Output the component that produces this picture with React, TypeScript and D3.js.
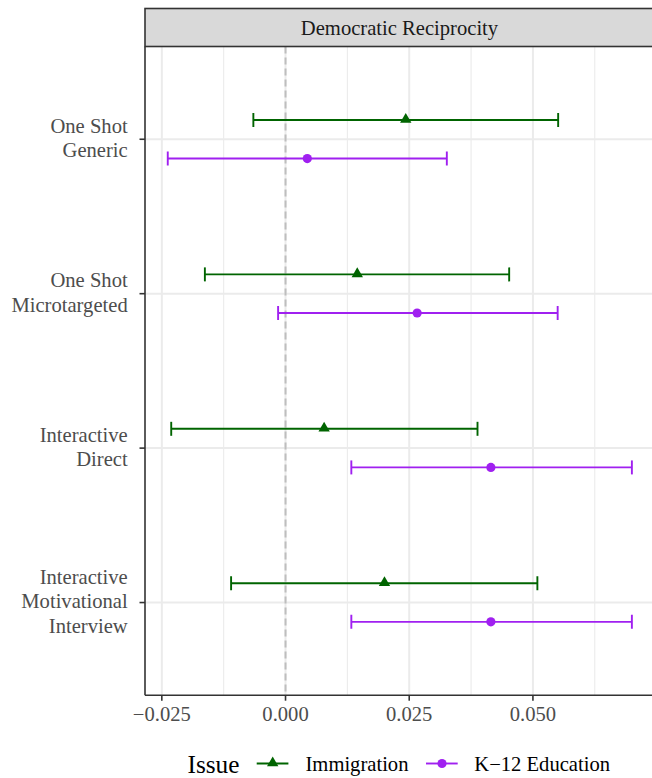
import React from "react";
import * as d3 from "d3";

const categories = ["One Shot\nGeneric", "One Shot\nMicrotargeted", "Interactive\nDirect", "Interactive\nMotivational\nInterview"];
const issues = ["Immigration", "K−12 Education"];
const immEst = [0.0243, 0.0145, 0.0078, 0.0200];
const immLo = [-0.0065, -0.0163, -0.0231, -0.0110];
const immHi = [0.0551, 0.0452, 0.0388, 0.0509];
const k12Est = [0.0044, 0.0266, 0.0415, 0.0415];
const k12Lo = [-0.0238, -0.0015, 0.0133, 0.0133];
const k12Hi = [0.0326, 0.0550, 0.0700, 0.0700];
const xTicks = [-0.025, 0, 0.025, 0.05];
const xMinor = [-0.0125, 0.0125, 0.0375, 0.0625];
const stripTitle = "Democratic Reciprocity";
const legendTitle = "Issue";

const colors = ["#006400", "#A020F0"];
const FONT = "'Liberation Serif', 'Times New Roman', serif";

export default function App() {
  const W = 652, H = 778;
  const pL = 145, pR = 660, pT = 46.6, pB = 695.2;
  const x = d3.scaleLinear().domain([-0.0284, 0.0740]).range([145, 145 + 0.1024 * 4948]);
  const y = d3.scalePoint<string>().domain(categories).range([pT, pB]).padding(0.6);
  const step = y.step();
  const off = step * 0.125;
  const fmt = (v: number) => (v < 0 ? "−" : "") + Math.abs(v).toFixed(3);

  const series = [
    { name: issues[0], est: immEst, lo: immLo, hi: immHi, color: colors[0], dy: -off, shape: "tri" },
    { name: issues[1], est: k12Est, lo: k12Lo, hi: k12Hi, color: colors[1], dy: off, shape: "circle" },
  ];

  const tri = d3.symbol().type(d3.symbolTriangle).size(56);
  const cap = 7;

  return (
    <svg width={W} height={H} style={{ position: "absolute", left: 0, top: 0, background: "#fff" }} fontFamily={FONT}>
      <defs>
        <clipPath id="panel"><rect x={pL} y={pT} width={pR - pL} height={pB - pT} /></clipPath>
      </defs>
      <rect x={0} y={0} width={W} height={H} fill="#fff" />
      <g clipPath="url(#panel)">
        {xMinor.map((v) => (
          <line key={"mn" + v} x1={x(v)} x2={x(v)} y1={pT} y2={pB} stroke="#EBEBEB" strokeWidth={1.1} />
        ))}
        {xTicks.map((v) => (
          <line key={"mj" + v} x1={x(v)} x2={x(v)} y1={pT} y2={pB} stroke="#EBEBEB" strokeWidth={2} />
        ))}
        {categories.map((c) => (
          <line key={"hg" + c} x1={pL} x2={pR} y1={y(c)!} y2={y(c)!} stroke="#EBEBEB" strokeWidth={2} />
        ))}
        <line x1={x(0)} x2={x(0)} y1={pT} y2={pB} stroke="#BEBEBE" strokeWidth={2} strokeDasharray="7,4" />
        {series.map((s) =>
          categories.map((c, i) => {
            const cy = y(c)! + s.dy;
            return (
              <g key={s.name + c}>
                <line x1={x(s.lo[i])} x2={x(s.hi[i])} y1={cy} y2={cy} stroke={s.color} strokeWidth={1.9} />
                <line x1={x(s.lo[i])} x2={x(s.lo[i])} y1={cy - cap} y2={cy + cap} stroke={s.color} strokeWidth={1.9} />
                <line x1={x(s.hi[i])} x2={x(s.hi[i])} y1={cy - cap} y2={cy + cap} stroke={s.color} strokeWidth={1.9} />
                {s.shape === "tri" ? (
                  <path d={tri()!} transform={`translate(${x(s.est[i])},${cy - 0.5})`} fill={s.color} />
                ) : (
                  <circle cx={x(s.est[i])} cy={cy} r={4.6} fill={s.color} />
                )}
              </g>
            );
          })
        )}
      </g>
      {/* panel border */}
      <line x1={pL} x2={pL} y1={pT} y2={pB} stroke="#333333" strokeWidth={1.6} />
      <line x1={pL} x2={pR} y1={pB} y2={pB} stroke="#333333" strokeWidth={1.6} />
      {/* strip */}
      <rect x={pL} y={8.5} width={pR - pL} height={38} fill="#D9D9D9" stroke="#333333" strokeWidth={1.6} />
      <text x={399.5} y={34.5} textAnchor="middle" fontSize={20.6} fill="#1A1A1A">{stripTitle}</text>
      {/* x axis */}
      {xTicks.map((v) => (
        <g key={"xt" + v}>
          <line x1={x(v)} x2={x(v)} y1={pB} y2={pB + 5.5} stroke="#333333" strokeWidth={1.6} />
          <text x={x(v)} y={721} textAnchor="middle" fontSize={20.6} fill="#4D4D4D">{fmt(v)}</text>
        </g>
      ))}
      {/* y axis */}
      {categories.map((c) => {
        const lines = c.split("\n");
        const L = 24.8;
        return (
          <g key={"yt" + c}>
            <line x1={pL - 5.5} x2={pL} y1={y(c)!} y2={y(c)!} stroke="#333333" strokeWidth={1.6} />
            {lines.map((t, j) => (
              <text key={j} x={127.7} y={y(c)! + (j - (lines.length - 1) / 2) * L + 5.8} textAnchor="end" fontSize={20.6} fill="#4D4D4D">{t}</text>
            ))}
          </g>
        );
      })}
      {/* legend */}
      <text x={187.5} y={772.5} fontSize={25.3} fill="#000">{legendTitle}</text>
      {[{ x0: 256.7, tx: 305.5 }, { x0: 426, tx: 474.3 }].map((p, k) => (
        <g key={"lg" + k}>
          <line x1={p.x0} x2={p.x0 + 31.7} y1={763.5} y2={763.5} stroke={series[k].color} strokeWidth={1.9} />
          {k === 0 ? (
            <path d={tri()!} transform={`translate(${p.x0 + 16},${763})`} fill={series[k].color} />
          ) : (
            <circle cx={p.x0 + 16} cy={763.5} r={4.6} fill={series[k].color} />
          )}
          <text x={p.tx} y={770.7} fontSize={20.6} fill="#000">{issues[k]}</text>
        </g>
      ))}
    </svg>
  );
}
